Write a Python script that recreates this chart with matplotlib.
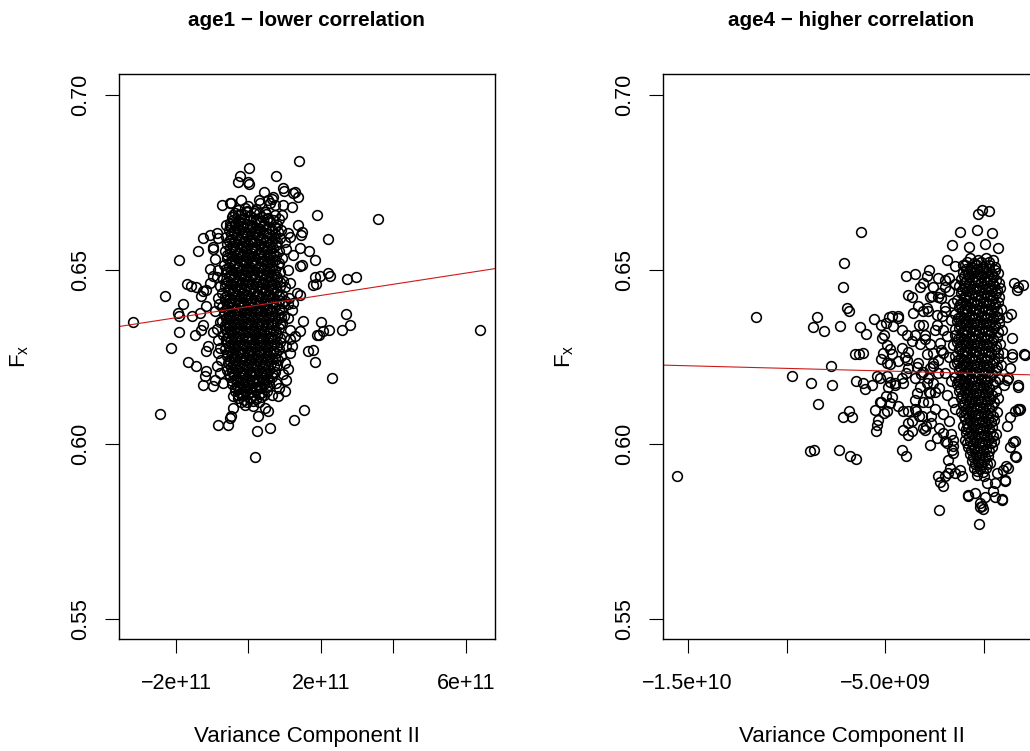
import matplotlib
matplotlib.use("Agg")
import matplotlib.pyplot as plt

plt.rcParams["font.family"] = ["Liberation Sans", "DejaVu Sans"]
plt.rcParams["mathtext.default"] = "regular"

# age1 -- (Variance Component II / 1e11, F_x)
age1_core = [
    (-0.30, 0.6672), (-0.05, 0.6668), (0.20, 0.6674), (0.45, 0.6666),
    (-0.45, 0.6650), (-0.28, 0.6655), (-0.12, 0.6648), (0.05, 0.6653), (0.22, 0.6646), (0.38, 0.6652), (0.55, 0.6648), (0.72, 0.6655),
    (-0.50, 0.6632), (-0.36, 0.6628), (-0.20, 0.6634), (-0.04, 0.6630), (0.12, 0.6626), (0.28, 0.6633), (0.44, 0.6629), (0.60, 0.6635), (0.78, 0.6627),
    (-0.55, 0.6612), (-0.40, 0.6608), (-0.26, 0.6614), (-0.11, 0.6607), (0.03, 0.6613), (0.18, 0.6609), (0.33, 0.6615), (0.49, 0.6606), (0.65, 0.6612), (0.82, 0.6608),
    (-0.62, 0.6592), (-0.47, 0.6588), (-0.33, 0.6594), (-0.18, 0.6589), (-0.04, 0.6595), (0.11, 0.6587), (0.25, 0.6593), (0.40, 0.6588), (0.56, 0.6594), (0.71, 0.6589), (0.88, 0.6591),
    (-0.58, 0.6572), (-0.44, 0.6567), (-0.30, 0.6574), (-0.15, 0.6568), (0.00, 0.6573), (0.14, 0.6566), (0.29, 0.6572), (0.44, 0.6567), (0.60, 0.6574), (0.76, 0.6569),
    (-0.66, 0.6552), (-0.52, 0.6548), (-0.38, 0.6554), (-0.23, 0.6547), (-0.08, 0.6553), (0.07, 0.6548), (0.21, 0.6555), (0.36, 0.6549), (0.51, 0.6553), (0.67, 0.6547), (0.84, 0.6552),
    (-0.60, 0.6532), (-0.45, 0.6527), (-0.31, 0.6534), (-0.16, 0.6528), (-0.02, 0.6533), (0.13, 0.6527), (0.28, 0.6534), (0.43, 0.6528), (0.58, 0.6532), (0.74, 0.6527), (0.92, 0.6533),
    (-0.68, 0.6512), (-0.54, 0.6508), (-0.40, 0.6514), (-0.25, 0.6507), (-0.10, 0.6513), (0.05, 0.6508), (0.19, 0.6514), (0.34, 0.6507), (0.50, 0.6513), (0.65, 0.6508), (0.81, 0.6512),
    (-0.62, 0.6492), (-0.48, 0.6487), (-0.34, 0.6493), (-0.19, 0.6488), (-0.04, 0.6494), (0.10, 0.6487), (0.25, 0.6493), (0.40, 0.6488), (0.55, 0.6494), (0.71, 0.6488), (0.88, 0.6492),
    (-0.70, 0.6472), (-0.56, 0.6468), (-0.42, 0.6474), (-0.27, 0.6467), (-0.12, 0.6473), (0.02, 0.6468), (0.17, 0.6474), (0.32, 0.6467), (0.47, 0.6473), (0.62, 0.6468), (0.78, 0.6472), (0.95, 0.6467),
    (-0.64, 0.6452), (-0.50, 0.6447), (-0.36, 0.6453), (-0.21, 0.6448), (-0.06, 0.6454), (0.08, 0.6447), (0.23, 0.6453), (0.38, 0.6448), (0.53, 0.6452), (0.69, 0.6447), (0.86, 0.6453),
    (-0.72, 0.6432), (-0.58, 0.6428), (-0.44, 0.6434), (-0.29, 0.6427), (-0.14, 0.6433), (0.00, 0.6428), (0.15, 0.6434), (0.30, 0.6427), (0.45, 0.6433), (0.60, 0.6428), (0.76, 0.6432), (0.93, 0.6428),
    (-0.66, 0.6412), (-0.52, 0.6407), (-0.38, 0.6413), (-0.23, 0.6408), (-0.08, 0.6414), (0.06, 0.6407), (0.21, 0.6413), (0.36, 0.6408), (0.51, 0.6412), (0.67, 0.6407), (0.84, 0.6413), (1.00, 0.6409),
    (-0.74, 0.6392), (-0.60, 0.6387), (-0.46, 0.6393), (-0.31, 0.6388), (-0.16, 0.6394), (-0.02, 0.6387), (0.13, 0.6393), (0.28, 0.6388), (0.43, 0.6392), (0.58, 0.6387), (0.74, 0.6393), (0.91, 0.6388),
    (-0.68, 0.6372), (-0.54, 0.6367), (-0.40, 0.6373), (-0.25, 0.6368), (-0.10, 0.6374), (0.04, 0.6367), (0.19, 0.6373), (0.34, 0.6368), (0.49, 0.6372), (0.65, 0.6367), (0.82, 0.6373), (0.98, 0.6368),
    (-0.72, 0.6352), (-0.58, 0.6347), (-0.44, 0.6353), (-0.29, 0.6348), (-0.14, 0.6354), (0.00, 0.6347), (0.15, 0.6353), (0.30, 0.6348), (0.45, 0.6352), (0.61, 0.6347), (0.77, 0.6353), (0.94, 0.6348),
    (-0.66, 0.6332), (-0.52, 0.6327), (-0.38, 0.6333), (-0.23, 0.6328), (-0.08, 0.6334), (0.06, 0.6327), (0.21, 0.6333), (0.36, 0.6328), (0.51, 0.6332), (0.67, 0.6327), (0.85, 0.6333),
    (-0.70, 0.6312), (-0.56, 0.6307), (-0.42, 0.6313), (-0.27, 0.6308), (-0.12, 0.6314), (0.02, 0.6307), (0.17, 0.6313), (0.32, 0.6308), (0.47, 0.6312), (0.63, 0.6307), (0.80, 0.6313), (0.97, 0.6308),
    (-0.62, 0.6292), (-0.48, 0.6287), (-0.34, 0.6293), (-0.19, 0.6288), (-0.04, 0.6294), (0.10, 0.6287), (0.25, 0.6293), (0.40, 0.6288), (0.55, 0.6292), (0.71, 0.6287), (0.88, 0.6293),
    (-0.66, 0.6272), (-0.52, 0.6267), (-0.38, 0.6273), (-0.23, 0.6268), (-0.08, 0.6274), (0.06, 0.6267), (0.21, 0.6273), (0.36, 0.6268), (0.51, 0.6272), (0.67, 0.6267), (0.84, 0.6273),
    (-0.60, 0.6252), (-0.46, 0.6247), (-0.32, 0.6253), (-0.17, 0.6248), (-0.02, 0.6254), (0.12, 0.6247), (0.27, 0.6253), (0.42, 0.6248), (0.57, 0.6252), (0.73, 0.6247), (0.90, 0.6252),
    (-0.56, 0.6232), (-0.42, 0.6227), (-0.28, 0.6233), (-0.13, 0.6228), (0.02, 0.6234), (0.16, 0.6227), (0.31, 0.6233), (0.46, 0.6228), (0.61, 0.6232), (0.78, 0.6227),
    (-0.60, 0.6212), (-0.46, 0.6207), (-0.32, 0.6213), (-0.17, 0.6208), (-0.02, 0.6214), (0.12, 0.6207), (0.27, 0.6213), (0.42, 0.6208), (0.57, 0.6212), (0.74, 0.6207),
    (-0.52, 0.6192), (-0.38, 0.6187), (-0.24, 0.6193), (-0.09, 0.6188), (0.06, 0.6194), (0.20, 0.6187), (0.35, 0.6193), (0.50, 0.6188), (0.66, 0.6192),
    (-0.45, 0.6172), (-0.31, 0.6167), (-0.16, 0.6173), (-0.01, 0.6168), (0.14, 0.6174), (0.28, 0.6167), (0.43, 0.6173), (0.58, 0.6168),
    (-0.38, 0.6152), (-0.23, 0.6147), (-0.08, 0.6153), (0.07, 0.6148), (0.22, 0.6154), (0.36, 0.6147), (0.52, 0.6152),
    (-0.28, 0.6132), (-0.12, 0.6127), (0.04, 0.6133), (0.20, 0.6128), (0.36, 0.6134),
]
# second, denser layer of the black centre of the age1 cloud
age1_core_b = [
    (-0.38, 0.6662), (-0.20, 0.6660), (-0.03, 0.6664), (0.14, 0.6661), (0.30, 0.6663), (0.48, 0.6660),
    (-0.44, 0.6642), (-0.28, 0.6640), (-0.12, 0.6644), (0.04, 0.6641), (0.20, 0.6643), (0.36, 0.6640), (0.52, 0.6644), (0.68, 0.6641),
    (-0.48, 0.6622), (-0.33, 0.6620), (-0.18, 0.6624), (-0.03, 0.6621), (0.10, 0.6623), (0.25, 0.6620), (0.41, 0.6624), (0.57, 0.6621), (0.72, 0.6623),
    (-0.48, 0.6602), (-0.33, 0.6600), (-0.18, 0.6604), (-0.04, 0.6601), (0.11, 0.6603), (0.26, 0.6600), (0.41, 0.6604), (0.56, 0.6601), (0.73, 0.6603),
    (-0.54, 0.6582), (-0.40, 0.6580), (-0.25, 0.6584), (-0.11, 0.6581), (0.04, 0.6583), (0.18, 0.6580), (0.33, 0.6584), (0.48, 0.6581), (0.64, 0.6583), (0.80, 0.6580),
    (-0.51, 0.6562), (-0.37, 0.6560), (-0.22, 0.6564), (-0.07, 0.6561), (0.07, 0.6563), (0.22, 0.6560), (0.37, 0.6564), (0.52, 0.6561), (0.68, 0.6563),
    (-0.59, 0.6542), (-0.45, 0.6540), (-0.30, 0.6544), (-0.15, 0.6541), (0.00, 0.6543), (0.14, 0.6540), (0.29, 0.6544), (0.44, 0.6541), (0.59, 0.6543), (0.76, 0.6540),
    (-0.52, 0.6522), (-0.38, 0.6520), (-0.23, 0.6524), (-0.09, 0.6521), (0.06, 0.6523), (0.21, 0.6520), (0.36, 0.6524), (0.51, 0.6521), (0.66, 0.6523), (0.83, 0.6520),
    (-0.61, 0.6502), (-0.47, 0.6500), (-0.32, 0.6504), (-0.17, 0.6501), (-0.03, 0.6503), (0.12, 0.6500), (0.27, 0.6504), (0.42, 0.6501), (0.57, 0.6503), (0.73, 0.6500),
    (-0.55, 0.6482), (-0.41, 0.6480), (-0.26, 0.6484), (-0.11, 0.6481), (0.03, 0.6483), (0.18, 0.6480), (0.33, 0.6484), (0.48, 0.6481), (0.63, 0.6483), (0.80, 0.6480),
    (-0.63, 0.6462), (-0.49, 0.6460), (-0.34, 0.6464), (-0.19, 0.6461), (-0.05, 0.6463), (0.10, 0.6460), (0.25, 0.6464), (0.40, 0.6461), (0.55, 0.6463), (0.70, 0.6460), (0.87, 0.6464),
    (-0.57, 0.6442), (-0.43, 0.6440), (-0.28, 0.6444), (-0.13, 0.6441), (0.01, 0.6443), (0.16, 0.6440), (0.31, 0.6444), (0.46, 0.6441), (0.61, 0.6443), (0.78, 0.6440),
    (-0.65, 0.6422), (-0.51, 0.6420), (-0.36, 0.6424), (-0.21, 0.6421), (-0.07, 0.6423), (0.08, 0.6420), (0.23, 0.6424), (0.38, 0.6421), (0.53, 0.6423), (0.68, 0.6420), (0.85, 0.6424),
    (-0.59, 0.6402), (-0.45, 0.6400), (-0.30, 0.6404), (-0.15, 0.6401), (-0.01, 0.6403), (0.14, 0.6400), (0.29, 0.6404), (0.44, 0.6401), (0.59, 0.6403), (0.76, 0.6400), (0.92, 0.6404),
    (-0.67, 0.6382), (-0.53, 0.6380), (-0.38, 0.6384), (-0.23, 0.6381), (-0.09, 0.6383), (0.06, 0.6380), (0.21, 0.6384), (0.36, 0.6381), (0.51, 0.6383), (0.66, 0.6380), (0.83, 0.6384),
    (-0.61, 0.6362), (-0.47, 0.6360), (-0.32, 0.6364), (-0.17, 0.6361), (-0.03, 0.6363), (0.12, 0.6360), (0.27, 0.6364), (0.42, 0.6361), (0.57, 0.6363), (0.74, 0.6360), (0.90, 0.6364),
    (-0.65, 0.6342), (-0.51, 0.6340), (-0.36, 0.6344), (-0.21, 0.6341), (-0.07, 0.6343), (0.08, 0.6340), (0.23, 0.6344), (0.38, 0.6341), (0.53, 0.6343), (0.69, 0.6340), (0.86, 0.6344),
    (-0.59, 0.6322), (-0.45, 0.6320), (-0.30, 0.6324), (-0.15, 0.6321), (-0.01, 0.6323), (0.14, 0.6320), (0.29, 0.6324), (0.44, 0.6321), (0.59, 0.6323), (0.76, 0.6320),
    (-0.63, 0.6302), (-0.49, 0.6300), (-0.34, 0.6304), (-0.19, 0.6301), (-0.05, 0.6303), (0.10, 0.6300), (0.25, 0.6304), (0.40, 0.6301), (0.55, 0.6303), (0.71, 0.6300), (0.88, 0.6304),
    (-0.55, 0.6282), (-0.41, 0.6280), (-0.26, 0.6284), (-0.11, 0.6281), (0.03, 0.6283), (0.18, 0.6280), (0.33, 0.6284), (0.48, 0.6281), (0.63, 0.6283), (0.80, 0.6280),
    (-0.59, 0.6262), (-0.45, 0.6260), (-0.30, 0.6264), (-0.15, 0.6261), (-0.01, 0.6263), (0.14, 0.6260), (0.29, 0.6264), (0.44, 0.6261), (0.59, 0.6263), (0.76, 0.6260),
    (-0.53, 0.6242), (-0.39, 0.6240), (-0.24, 0.6244), (-0.09, 0.6241), (0.05, 0.6243), (0.20, 0.6240), (0.35, 0.6244), (0.50, 0.6241), (0.65, 0.6243), (0.82, 0.6240),
    (-0.49, 0.6222), (-0.35, 0.6220), (-0.20, 0.6224), (-0.05, 0.6221), (0.09, 0.6223), (0.24, 0.6220), (0.39, 0.6224), (0.54, 0.6221), (0.70, 0.6223),
    (-0.53, 0.6202), (-0.39, 0.6200), (-0.24, 0.6204), (-0.09, 0.6201), (0.05, 0.6203), (0.20, 0.6200), (0.35, 0.6204), (0.50, 0.6201), (0.66, 0.6203),
    (-0.45, 0.6182), (-0.31, 0.6180), (-0.16, 0.6184), (-0.01, 0.6181), (0.13, 0.6183), (0.28, 0.6180), (0.43, 0.6184), (0.58, 0.6181),
    (-0.38, 0.6162), (-0.23, 0.6160), (-0.08, 0.6164), (0.06, 0.6161), (0.21, 0.6163), (0.36, 0.6160), (0.51, 0.6164),
    (-0.30, 0.6142), (-0.15, 0.6140), (0.00, 0.6144), (0.14, 0.6141), (0.29, 0.6143), (0.44, 0.6140),
    (-0.20, 0.6122), (-0.04, 0.6120), (0.12, 0.6124), (0.28, 0.6121),
]
age1_outer = [
    (-3.20, 0.6349), (6.40, 0.6326), (1.39, 0.6811), (0.01, 0.6791), (-0.22, 0.6769), (-0.29, 0.6750), (-0.01, 0.6750),
    (0.02, 0.6744), (0.77, 0.6769), (0.96, 0.6733), (0.98, 0.6724), (1.23, 0.6719), (1.28, 0.6721), (1.37, 0.6709),
    (0.43, 0.6722), (0.64, 0.6703), (0.68, 0.6709), (-0.72, 0.6686), (-0.52, 0.6692), (-0.47, 0.6690), (-0.10, 0.6676),
    (-0.01, 0.6681), (0.17, 0.6667), (0.31, 0.6690), (0.54, 0.6700), (0.73, 0.6686), (0.96, 0.6686), (0.94, 0.6657),
    (-0.42, 0.6657), (-0.61, 0.6628), (-0.52, 0.6624), (1.89, 0.6655), (1.37, 0.6628), (1.49, 0.6609), (1.46, 0.6600),
    (1.10, 0.6604), (1.14, 0.6593), (0.91, 0.6614), (2.19, 0.6587), (-1.25, 0.6590), (-1.07, 0.6600), (-0.87, 0.6604),
    (-0.84, 0.6590), (-0.98, 0.6566), (-1.39, 0.6552), (-1.92, 0.6526), (1.42, 0.6562), (1.68, 0.6552), (1.23, 0.6543),
    (1.83, 0.6528), (1.42, 0.6509), (1.49, 0.6514), (-1.07, 0.6501), (-0.98, 0.6482), (-1.05, 0.6461), (-0.79, 0.6452),
    (-1.25, 0.6438), (-1.16, 0.6442), (-1.30, 0.6423), (-1.71, 0.6459), (-1.58, 0.6452), (-1.44, 0.6449), (-2.31, 0.6425),
    (-1.80, 0.6401), (-1.94, 0.6376), (-1.92, 0.6366), (-1.57, 0.6366), (-1.34, 0.6376), (-1.16, 0.6395), (-1.25, 0.6342),
    (-1.30, 0.6328), (-1.92, 0.6321), (-1.48, 0.6312), (-2.15, 0.6275), (-1.11, 0.6280), (-1.16, 0.6266), (-0.79, 0.6275),
    (-0.84, 0.6299), (-1.67, 0.6235), (-1.46, 0.6225), (-1.16, 0.6209), (-1.21, 0.6194), (-0.88, 0.6223), (-0.93, 0.6185),
    (-0.79, 0.6204), (-0.70, 0.6175), (-1.25, 0.6170), (-0.98, 0.6166), (-2.44, 0.6085), (-0.42, 0.6137), (-0.29, 0.6142),
    (-0.42, 0.6104), (-0.47, 0.6080), (-0.52, 0.6075), (-0.84, 0.6056), (-0.56, 0.6056), (-0.10, 0.6113), (0.13, 0.6108),
    (0.27, 0.6080), (0.45, 0.6104), (0.54, 0.6094), (0.24, 0.6039), (0.59, 0.6046), (0.17, 0.5963), (0.82, 0.6137),
    (1.00, 0.6151), (0.77, 0.6175), (1.05, 0.6185), (1.10, 0.6216), (1.00, 0.6232), (1.25, 0.6068), (1.54, 0.6099),
    (2.31, 0.6189), (1.65, 0.6266), (1.77, 0.6271), (1.83, 0.6235), (1.88, 0.6314), (1.95, 0.6312), (2.01, 0.6349),
    (2.23, 0.6328), (2.06, 0.6323), (2.57, 0.6328), (2.80, 0.6340), (2.69, 0.6374), (1.51, 0.6352), (1.42, 0.6323),
    (1.28, 0.6309), (1.14, 0.6328), (1.19, 0.6280), (1.14, 0.6261), (1.83, 0.6480), (1.97, 0.6482), (2.25, 0.6482),
    (1.86, 0.6459), (1.77, 0.6457), (2.21, 0.6490), (2.73, 0.6473), (2.98, 0.6480), (1.33, 0.6433), (1.42, 0.6428),
    (1.23, 0.6404), (1.14, 0.6461), (1.19, 0.6385), (3.58, 0.6644), (-0.98, 0.6560), (-0.93, 0.6530), (-0.88, 0.6480),
    (-0.84, 0.6420), (-0.93, 0.6380), (-0.79, 0.6350), (-0.98, 0.6320), (-0.84, 0.6260), (-0.75, 0.6240), (-0.88, 0.6330),
    (-0.80, 0.6400), (-0.85, 0.6500), (1.05, 0.6560), (1.10, 0.6500), (1.02, 0.6450), (1.12, 0.6420), (1.08, 0.6360),
    (1.15, 0.6300), (1.05, 0.6280), (1.10, 0.6400), (1.00, 0.6580), (0.95, 0.6200), (0.85, 0.6160), (0.65, 0.6140),
    (0.30, 0.6700), (0.60, 0.6690), (-0.20, 0.6700), (1.20, 0.6680), (0.85, 0.6645),
]
age1_fit = (0.6394, 1.597e-14)  # intercept, slope of the red line

# age4 -- (Variance Component II / 1e9, F_x)
age4_core = [
    (-0.70, 0.6532), (-0.30, 0.6528), (0.10, 0.6533), (0.45, 0.6527),
    (-1.00, 0.6512), (-0.65, 0.6508), (-0.35, 0.6513), (-0.05, 0.6507), (0.25, 0.6512), (0.55, 0.6508),
    (-1.10, 0.6492), (-0.80, 0.6488), (-0.50, 0.6493), (-0.20, 0.6487), (0.10, 0.6492), (0.40, 0.6488), (0.70, 0.6491),
    (-1.20, 0.6472), (-0.90, 0.6468), (-0.60, 0.6473), (-0.30, 0.6467), (0.00, 0.6472), (0.30, 0.6468), (0.60, 0.6471),
    (-1.30, 0.6452), (-1.00, 0.6448), (-0.70, 0.6453), (-0.40, 0.6447), (-0.10, 0.6452), (0.20, 0.6448), (0.50, 0.6453), (0.80, 0.6447),
    (-1.20, 0.6432), (-0.90, 0.6428), (-0.60, 0.6433), (-0.30, 0.6427), (0.00, 0.6432), (0.30, 0.6428), (0.60, 0.6433),
    (-1.40, 0.6412), (-1.10, 0.6408), (-0.80, 0.6413), (-0.50, 0.6407), (-0.20, 0.6412), (0.10, 0.6408), (0.40, 0.6413), (0.70, 0.6407),
    (-1.30, 0.6392), (-1.00, 0.6388), (-0.70, 0.6393), (-0.40, 0.6387), (-0.10, 0.6392), (0.20, 0.6388), (0.50, 0.6393), (0.85, 0.6387),
    (-1.50, 0.6372), (-1.20, 0.6368), (-0.90, 0.6373), (-0.60, 0.6367), (-0.30, 0.6372), (0.00, 0.6368), (0.30, 0.6373), (0.60, 0.6367),
    (-1.40, 0.6352), (-1.10, 0.6348), (-0.80, 0.6353), (-0.50, 0.6347), (-0.20, 0.6352), (0.10, 0.6348), (0.40, 0.6353), (0.75, 0.6347),
    (-1.30, 0.6332), (-1.00, 0.6328), (-0.70, 0.6333), (-0.40, 0.6327), (-0.10, 0.6332), (0.20, 0.6328), (0.50, 0.6333), (0.90, 0.6327),
    (-1.50, 0.6312), (-1.20, 0.6308), (-0.90, 0.6313), (-0.60, 0.6307), (-0.30, 0.6312), (0.00, 0.6308), (0.30, 0.6313), (0.65, 0.6307),
    (-1.40, 0.6292), (-1.10, 0.6288), (-0.80, 0.6293), (-0.50, 0.6287), (-0.20, 0.6292), (0.10, 0.6288), (0.40, 0.6293), (0.80, 0.6287),
    (-1.30, 0.6272), (-1.00, 0.6268), (-0.70, 0.6273), (-0.40, 0.6267), (-0.10, 0.6272), (0.20, 0.6268), (0.55, 0.6273),
    (-1.50, 0.6252), (-1.20, 0.6248), (-0.90, 0.6253), (-0.60, 0.6247), (-0.30, 0.6252), (0.00, 0.6248), (0.30, 0.6253), (0.70, 0.6247),
    (-1.40, 0.6232), (-1.10, 0.6228), (-0.80, 0.6233), (-0.50, 0.6227), (-0.20, 0.6232), (0.10, 0.6228), (0.45, 0.6233), (0.85, 0.6227),
    (-1.30, 0.6212), (-1.00, 0.6208), (-0.70, 0.6213), (-0.40, 0.6207), (-0.10, 0.6212), (0.20, 0.6208), (0.60, 0.6213),
    (-1.50, 0.6192), (-1.20, 0.6188), (-0.90, 0.6193), (-0.60, 0.6187), (-0.30, 0.6192), (0.00, 0.6188), (0.30, 0.6193), (0.75, 0.6187),
    (-1.40, 0.6172), (-1.10, 0.6168), (-0.80, 0.6173), (-0.50, 0.6167), (-0.20, 0.6172), (0.10, 0.6168), (0.45, 0.6173),
    (-1.30, 0.6152), (-1.00, 0.6148), (-0.70, 0.6153), (-0.40, 0.6147), (-0.10, 0.6152), (0.20, 0.6148), (0.60, 0.6153),
    (-1.20, 0.6132), (-0.90, 0.6128), (-0.60, 0.6133), (-0.30, 0.6127), (0.00, 0.6132), (0.30, 0.6128), (0.70, 0.6133),
    (-1.10, 0.6112), (-0.80, 0.6108), (-0.50, 0.6113), (-0.20, 0.6107), (0.10, 0.6112), (0.40, 0.6108),
    (-1.20, 0.6092), (-0.90, 0.6088), (-0.60, 0.6093), (-0.30, 0.6087), (0.00, 0.6092), (0.30, 0.6088), (0.65, 0.6093),
    (-1.00, 0.6072), (-0.70, 0.6068), (-0.40, 0.6073), (-0.10, 0.6067), (0.20, 0.6072), (0.50, 0.6068),
    (-1.10, 0.6052), (-0.80, 0.6048), (-0.50, 0.6053), (-0.20, 0.6047), (0.10, 0.6052), (0.40, 0.6048),
    (-0.90, 0.6032), (-0.60, 0.6028), (-0.30, 0.6033), (0.00, 0.6027), (0.30, 0.6032), (0.60, 0.6028),
    (-1.00, 0.6012), (-0.70, 0.6008), (-0.40, 0.6013), (-0.10, 0.6007), (0.20, 0.6012), (0.50, 0.6008),
    (-0.80, 0.5992), (-0.50, 0.5988), (-0.20, 0.5993), (0.10, 0.5987), (0.40, 0.5992),
    (-0.70, 0.5972), (-0.40, 0.5968), (-0.10, 0.5973), (0.20, 0.5967),
    (-0.60, 0.5952), (-0.30, 0.5948), (0.00, 0.5953), (0.30, 0.5947),
    (-0.50, 0.5932), (-0.20, 0.5928), (0.10, 0.5933),
    (-0.35, 0.5912), (0.00, 0.5908),
]
# second, denser layer of the black centre of the age4 cloud
age4_core_b = [
    (-0.85, 0.6522), (-0.50, 0.6520), (-0.15, 0.6523), (0.25, 0.6521),
    (-0.95, 0.6502), (-0.65, 0.6500), (-0.35, 0.6503), (-0.05, 0.6501), (0.25, 0.6503), (0.55, 0.6500),
    (-1.05, 0.6482), (-0.75, 0.6480), (-0.45, 0.6483), (-0.15, 0.6481), (0.15, 0.6483), (0.45, 0.6480),
    (-1.05, 0.6462), (-0.75, 0.6460), (-0.45, 0.6463), (-0.15, 0.6461), (0.15, 0.6463), (0.45, 0.6460), (0.75, 0.6462),
    (-1.15, 0.6442), (-0.85, 0.6440), (-0.55, 0.6443), (-0.25, 0.6441), (0.05, 0.6443), (0.35, 0.6440), (0.65, 0.6442),
    (-1.05, 0.6422), (-0.75, 0.6420), (-0.45, 0.6423), (-0.15, 0.6421), (0.15, 0.6423), (0.45, 0.6420), (0.75, 0.6422),
    (-1.25, 0.6402), (-0.95, 0.6400), (-0.65, 0.6403), (-0.35, 0.6401), (-0.05, 0.6403), (0.25, 0.6400), (0.55, 0.6402),
    (-1.15, 0.6382), (-0.85, 0.6380), (-0.55, 0.6383), (-0.25, 0.6381), (0.05, 0.6383), (0.35, 0.6380), (0.65, 0.6382),
    (-1.35, 0.6362), (-1.05, 0.6360), (-0.75, 0.6363), (-0.45, 0.6361), (-0.15, 0.6363), (0.15, 0.6360), (0.45, 0.6362), (0.75, 0.6361),
    (-1.25, 0.6342), (-0.95, 0.6340), (-0.65, 0.6343), (-0.35, 0.6341), (-0.05, 0.6343), (0.25, 0.6340), (0.55, 0.6342),
    (-1.15, 0.6322), (-0.85, 0.6320), (-0.55, 0.6323), (-0.25, 0.6321), (0.05, 0.6323), (0.35, 0.6320), (0.70, 0.6322),
    (-1.35, 0.6302), (-1.05, 0.6300), (-0.75, 0.6303), (-0.45, 0.6301), (-0.15, 0.6303), (0.15, 0.6300), (0.45, 0.6302),
    (-1.25, 0.6282), (-0.95, 0.6280), (-0.65, 0.6283), (-0.35, 0.6281), (-0.05, 0.6283), (0.25, 0.6280), (0.60, 0.6282),
    (-1.15, 0.6262), (-0.85, 0.6260), (-0.55, 0.6263), (-0.25, 0.6261), (0.05, 0.6263), (0.35, 0.6260), (0.70, 0.6262),
    (-1.35, 0.6242), (-1.05, 0.6240), (-0.75, 0.6243), (-0.45, 0.6241), (-0.15, 0.6243), (0.15, 0.6240), (0.50, 0.6242),
    (-1.25, 0.6222), (-0.95, 0.6220), (-0.65, 0.6223), (-0.35, 0.6221), (-0.05, 0.6223), (0.25, 0.6220), (0.65, 0.6222),
    (-1.15, 0.6202), (-0.85, 0.6200), (-0.55, 0.6203), (-0.25, 0.6201), (0.05, 0.6203), (0.40, 0.6200),
    (-1.35, 0.6182), (-1.05, 0.6180), (-0.75, 0.6183), (-0.45, 0.6181), (-0.15, 0.6183), (0.15, 0.6180), (0.55, 0.6182),
    (-1.25, 0.6162), (-0.95, 0.6160), (-0.65, 0.6163), (-0.35, 0.6161), (-0.05, 0.6163), (0.25, 0.6160),
    (-1.15, 0.6142), (-0.85, 0.6140), (-0.55, 0.6143), (-0.25, 0.6141), (0.05, 0.6143), (0.40, 0.6140),
    (-1.05, 0.6122), (-0.75, 0.6120), (-0.45, 0.6123), (-0.15, 0.6121), (0.15, 0.6123), (0.50, 0.6120),
    (-0.95, 0.6102), (-0.65, 0.6100), (-0.35, 0.6103), (-0.05, 0.6101), (0.25, 0.6103),
    (-1.05, 0.6082), (-0.75, 0.6080), (-0.45, 0.6083), (-0.15, 0.6081), (0.15, 0.6083), (0.45, 0.6080),
    (-0.85, 0.6062), (-0.55, 0.6060), (-0.25, 0.6063), (0.05, 0.6061), (0.35, 0.6063),
    (-0.95, 0.6042), (-0.65, 0.6040), (-0.35, 0.6043), (-0.05, 0.6041), (0.25, 0.6043),
    (-0.75, 0.6022), (-0.45, 0.6020), (-0.15, 0.6023), (0.15, 0.6021), (0.45, 0.6023),
    (-0.85, 0.6002), (-0.55, 0.6000), (-0.25, 0.6003), (0.05, 0.6001), (0.35, 0.6003),
    (-0.65, 0.5982), (-0.35, 0.5980), (-0.05, 0.5983), (0.25, 0.5981),
    (-0.55, 0.5962), (-0.25, 0.5960), (0.05, 0.5963),
    (-0.45, 0.5942), (-0.15, 0.5940), (0.15, 0.5943),
    (-0.35, 0.5922), (-0.05, 0.5920),
]
age4_outer = [
    (-15.52, 0.5908), (-11.56, 0.6365), (-6.22, 0.6609), (-7.09, 0.6520), (-7.16, 0.6451), (-6.96, 0.6389), (-6.84, 0.6380),
    (-8.44, 0.6365), (-8.64, 0.6335), (-8.10, 0.6324), (-7.28, 0.6337), (-6.28, 0.6335), (-6.00, 0.6316),
    (-6.54, 0.6258), (-6.32, 0.6259), (-6.15, 0.6262), (-7.77, 0.6224), (-9.74, 0.6194), (-8.78, 0.6175), (-7.68, 0.6168),
    (-8.42, 0.6116), (-7.16, 0.6077), (-6.84, 0.6096), (-6.67, 0.6079), (-8.81, 0.5979), (-8.59, 0.5982), (-7.34, 0.5982),
    (-6.79, 0.5965), (-6.50, 0.5957), (-6.48, 0.6182), (-6.12, 0.6175), (-6.03, 0.6157), (-5.67, 0.6168), (-5.56, 0.6358),
    (-5.19, 0.6303), (-4.94, 0.6284), (-4.80, 0.6365), (-4.97, 0.6346), (-4.60, 0.6337), (-4.35, 0.6361), (-5.11, 0.6261),
    (-4.94, 0.6232), (-4.77, 0.6230), (-5.41, 0.6194), (-5.27, 0.6189), (-4.94, 0.6196), (-4.77, 0.6179), (-4.52, 0.6170),
    (-4.10, 0.6175), (-3.96, 0.6205), (-4.99, 0.6139), (-5.27, 0.6122), (-4.77, 0.6118), (-5.53, 0.6098), (-5.07, 0.6089),
    (-5.36, 0.6070), (-5.44, 0.6056), (-5.48, 0.6037), (-4.14, 0.5982), (-3.98, 0.5967), (-4.10, 0.6096), (-3.84, 0.6062),
    (-3.67, 0.6039), (-3.45, 0.6096), (-3.08, 0.6046), (-2.95, 0.6053), (-3.98, 0.6483), (-3.51, 0.6487), (-3.12, 0.6461),
    (-2.91, 0.6482), (-2.78, 0.6499), (-2.32, 0.6475), (-1.99, 0.6470), (-3.84, 0.6428), (-3.59, 0.6377), (-3.08, 0.6382),
    (-3.28, 0.6342), (-3.93, 0.6313), (-3.67, 0.6294), (-4.14, 0.6275), (-3.84, 0.6265), (-3.89, 0.6241), (-3.42, 0.6222),
    (-3.08, 0.6208), (-2.74, 0.6218), (-2.91, 0.6175), (-3.42, 0.6146), (-3.51, 0.6127), (-3.08, 0.6122), (-2.74, 0.6146),
    (-2.58, 0.6175), (-2.66, 0.6425), (-2.24, 0.6434), (-1.99, 0.6394), (-2.41, 0.6370), (-2.07, 0.6327), (-2.24, 0.6289),
    (-2.58, 0.6261), (-2.32, 0.6242), (-2.07, 0.6261), (-1.90, 0.6528), (-1.64, 0.6571), (-1.23, 0.6609), (-0.39, 0.6613),
    (0.40, 0.6604), (0.04, 0.6573), (-0.76, 0.6564), (0.71, 0.6561), (-1.48, 0.6509), (-1.06, 0.6513), (-0.12, 0.6671),
    (0.25, 0.6668), (-0.30, 0.6660), (1.52, 0.6461), (1.72, 0.6451), (1.97, 0.6456), (1.64, 0.6442), (2.06, 0.6256),
    (1.69, 0.6170), (1.72, 0.6165), (1.76, 0.6098), (1.80, 0.6101), (1.30, 0.6079), (1.55, 0.6008), (1.30, 0.5993),
    (1.60, 0.5963), (1.13, 0.6051), (1.21, 0.5932), (1.04, 0.5894), (1.13, 0.6365), (1.38, 0.6303), (0.96, 0.6261),
    (1.38, 0.6251), (1.30, 0.6218), (1.13, 0.6184), (0.88, 0.5841), (0.46, 0.5865), (0.54, 0.5889), (-0.25, 0.5772),
    (-0.13, 0.5822), (-0.08, 0.5813), (-2.27, 0.5810), (-0.84, 0.5852), (-0.47, 0.5860), (-2.07, 0.5879), (-2.24, 0.5893),
    (-1.99, 0.5908), (-1.73, 0.5931), (-1.48, 0.5917), (-1.14, 0.5908), (-1.23, 0.5927), (-1.82, 0.5955), (-1.57, 0.5974),
    (-2.74, 0.5998), (-2.41, 0.6017), (-2.07, 0.6032), (-1.90, 0.6003), (-1.65, 0.5984), (-1.57, 0.6013), (0.96, 0.5927),
    (0.12, 0.5889), (0.63, 0.5917), (0.04, 0.5850), (-0.22, 0.5831),
    (-5.20, 0.6340), (-4.69, 0.6368), (-4.35, 0.6368), (-5.06, 0.6313), (-4.77, 0.6272), (-5.20, 0.6245), (-4.69, 0.6258),
    (-4.35, 0.6238), (-4.02, 0.6251), (-3.85, 0.6217), (-4.18, 0.6190), (-3.51, 0.6190), (-4.52, 0.6176), (-4.86, 0.6163),
    (-4.69, 0.6135), (-5.20, 0.6122), (-4.94, 0.6094), (-4.35, 0.6108), (-3.85, 0.6094), (-3.51, 0.6101), (-3.68, 0.6067),
    (-4.10, 0.6040), (-3.85, 0.6026), (-3.17, 0.6081), (-3.00, 0.6040), (-2.67, 0.6081), (-2.83, 0.6122), (-2.50, 0.6149),
    (-2.33, 0.6204), (-2.58, 0.6231), (-2.92, 0.6258), (-3.26, 0.6286), (-3.51, 0.6313), (-3.00, 0.6313), (-2.83, 0.6381),
    (-2.50, 0.6327), (-2.33, 0.6422), (-1.99, 0.6450), (-2.16, 0.6368), (-2.75, 0.6422), (-3.34, 0.6395), (-3.68, 0.6422),
    (-4.18, 0.6327), (-3.26, 0.6450), (-3.09, 0.6340), (-2.75, 0.6286), (-3.34, 0.6231), (-2.83, 0.6190), (-3.26, 0.6163),
    (-2.33, 0.5910), (-1.82, 0.5917), (-0.81, 0.5855), (-0.22, 0.5821), (0.54, 0.5848), (0.91, 0.5842), (1.05, 0.5896),
    (1.10, 0.5937), (1.55, 0.5965), (1.47, 0.6006), (1.55, 0.6094), (1.72, 0.6101), (2.02, 0.6258), (1.33, 0.6374),
    (1.38, 0.6258), (1.21, 0.6190), (0.99, 0.6169),
    (-2.60, 0.6450), (-2.20, 0.6420), (-1.80, 0.6440), (-1.60, 0.6405), (-2.00, 0.6380), (-1.70, 0.6355), (-2.40, 0.6340),
    (-1.90, 0.6310), (-1.60, 0.6285), (-2.20, 0.6270), (-1.80, 0.6250), (-2.60, 0.6225), (-2.00, 0.6205), (-1.70, 0.6180),
    (-2.30, 0.6160), (-1.90, 0.6140), (-1.60, 0.6120), (-2.50, 0.6100), (-2.10, 0.6085), (-1.80, 0.6065), (-2.30, 0.6045),
    (-1.70, 0.6030), (-2.00, 0.6010), (-1.60, 0.5995), (-1.80, 0.6475), (-1.50, 0.6460), (-1.50, 0.6330), (-1.55, 0.6230),
    (-1.50, 0.6100), (-3.00, 0.6300), (-2.80, 0.6150), (-3.20, 0.6200), (-2.90, 0.6390), (-3.30, 0.6080), (-2.70, 0.6060),
]
age4_fit = (0.6202, -1.5e-13)  # intercept, slope of the red line

y_ticks = [0.55, 0.60, 0.65, 0.70]
age1_xticks = [-2e11, 0, 2e11, 4e11, 6e11]
age1_xticklabels = ["\u22122e+11", "", "2e+11", "", "6e+11"]
age4_xticks = [-1.5e10, -1e10, -5e9, 0]
age4_xticklabels = ["\u22121.5e+10", "", "\u22125.0e+09", ""]


def draw_panel(ax, points, scale, fit, title, xlim, xticks, xticklabels):
    xs = [p[0] * scale for p in points]
    ys = [p[1] for p in points]
    ax.plot(xs, ys, "o", mfc="none", mec="black", ms=7.0, mew=1.15, ls="none")
    ax.axline((0, fit[0]), slope=fit[1], color="#cc1a1a", lw=0.8)

    ax.set_xlim(*xlim)
    ax.set_ylim(0.5441, 0.7060)
    ax.set_xticks(xticks)
    ax.set_xticklabels(xticklabels)
    ax.set_yticks(y_ticks)
    ax.set_yticklabels(["%.2f" % v for v in y_ticks], rotation=90, va="center")
    ax.tick_params(direction="out", length=10, width=0.8, labelsize=15.5)
    ax.tick_params(axis="x", pad=14)
    ax.tick_params(axis="y", pad=10)
    for sp in ax.spines.values():
        sp.set_linewidth(1.0)

    ax.text(0.5, 1.0955, title, transform=ax.transAxes, ha="center", va="center",
            fontsize=14.9, fontweight="bold")
    ax.set_xlabel("Variance Component II", fontsize=16)
    ax.xaxis.set_label_coords(0.5, -0.1723)
    ax.xaxis.label.set_va("center")
    ax.set_ylabel("$F_x$", fontsize=16)
    ax.yaxis.set_label_coords(-0.262, 0.5)
    ax.yaxis.label.set_va("center")


fig = plt.figure(figsize=(10.30, 7.51), dpi=100)
ax1 = fig.add_axes([0.1152, 0.1487, 0.3653, 0.7527])
ax2 = fig.add_axes([0.6440, 0.1487, 0.3653, 0.7527])

draw_panel(ax1, age1_core + age1_core_b + age1_outer, 1e11, age1_fit,
           "age1 \u2212 lower correlation", (-3.585e11, 6.807e11),
           age1_xticks, age1_xticklabels)
draw_panel(ax2, age4_core + age4_core_b + age4_outer, 1e9, age4_fit,
           "age4 \u2212 higher correlation", (-1.6229e10, 2.795e9),
           age4_xticks, age4_xticklabels)

fig.savefig("out.png", dpi=100)
